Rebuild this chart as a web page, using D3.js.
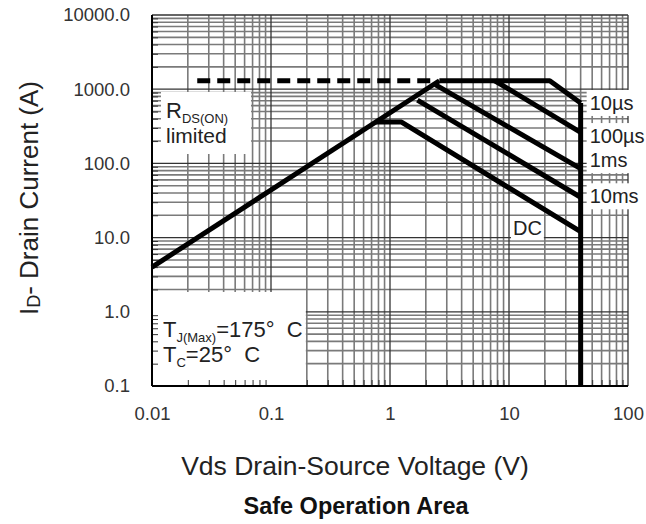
<!DOCTYPE html>
<html lang="en">
<head>
<meta charset="UTF-8">
<title>Safe Operation Area</title>
<script src="https://d3js.org/d3.v7.min.js"></script>
<style>
    body { margin: 0; background: #fff; }
    svg text { font-family: "Liberation Sans", Arial, sans-serif; fill: #222; white-space: pre; }
</style>
</head>
<body>
<svg id="chart" width="646" height="524"></svg>
<script>
    // axis ticks
    var xTicks = [0.01, 0.1, 1, 10, 100];
    var xTickLabels = ["0.01", "0.1", "1", "10", "100"];
    var yTicks = [0.1, 1, 10, 100, 1000, 10000];
    var yTickLabels = ["0.1", "1.0", "10.0", "100.0", "1000.0", "10000.0"];

    // SOA boundaries, [Vds, Id]
    var rdsLimit = [[0.01, 4], [2.6, 1300]];
    var rdsDashed = [[0.024, 1300], [2.3, 1300]];
    var pulse10us = [[2.6, 1300], [22, 1300], [40, 650]];
    var pulse100us = [[7.6, 1300], [40, 262]];
    var pulse1ms = [[2.4, 1150], [40, 85]];
    var pulse10ms = [[1.7, 714], [40, 35]];
    var dcLine = [[0.76, 360], [1.25, 360], [40, 12]];
    var vdsMax = [[40, 0.1], [40, 650]];

    // curve labels: name, Id where it sits next to the Vds max line
    var curveNames = ["10\u00b5s", "100\u00b5s", "1ms", "10ms"];
    var curveLabelId = [525, 188, 89, 29];

    var svg = d3.select("#chart");
    var mLeft = 152, mRight = 628, mTop = 15, mBottom = 386;

    var x = d3.scaleLog().domain([0.01, 100]).range([mLeft, mRight]);
    var y = d3.scaleLog().domain([0.1, 10000]).range([mBottom, mTop]);

    // minor values for the log grid
    var xMinor = [], yMinor = [];
    for (var d = -2; d < 2; d++)
        for (var k = 2; k <= 9; k++) xMinor.push(k * Math.pow(10, d));
    for (var d = -1; d < 4; d++)
        for (var k = 2; k <= 9; k++) yMinor.push(k * Math.pow(10, d));

    var grid = svg.append("g");
    grid.selectAll(".vminor").data(xMinor).enter().append("line")
        .attr("x1", function (v) { return x(v); }).attr("x2", function (v) { return x(v); })
        .attr("y1", mTop).attr("y2", mBottom)
        .attr("stroke", "#7a7a7a").attr("stroke-width", 1.6);
    grid.selectAll(".hminor").data(yMinor).enter().append("line")
        .attr("y1", function (v) { return y(v); }).attr("y2", function (v) { return y(v); })
        .attr("x1", mLeft).attr("x2", mRight)
        .attr("stroke", "#7a7a7a").attr("stroke-width", 1.6);
    grid.selectAll(".vmajor").data(xTicks).enter().append("line")
        .attr("x1", function (v) { return x(v); }).attr("x2", function (v) { return x(v); })
        .attr("y1", mTop).attr("y2", mBottom)
        .attr("stroke", "#333").attr("stroke-width", 1.3);
    grid.selectAll(".hmajor").data(yTicks).enter().append("line")
        .attr("y1", function (v) { return y(v); }).attr("y2", function (v) { return y(v); })
        .attr("x1", mLeft).attr("x2", mRight)
        .attr("stroke", "#333").attr("stroke-width", 1.3);

    // white note boxes
    svg.append("rect")
        .attr("x", x(0.01)).attr("y", y(1.85))
        .attr("width", x(0.2) - x(0.01) - 1).attr("height", y(0.1) - y(1.85))
        .attr("fill", "#fff");
    svg.append("rect")
        .attr("x", x(0.01) + 9).attr("y", 92)
        .attr("width", 90).attr("height", 62)
        .attr("fill", "#fff");

    // inward minor ticks on both axes
    svg.append("g").attr("transform", "translate(" + mLeft + ",0)")
        .call(d3.axisRight(y).tickValues(yMinor).tickSize(6).tickFormat(""))
        .call(function (g) { g.select(".domain").remove(); g.selectAll("line").attr("stroke", "#333"); });
    svg.append("g").attr("transform", "translate(0," + mBottom + ")")
        .call(d3.axisTop(x).tickValues(xMinor).tickSize(6).tickFormat(""))
        .call(function (g) { g.select(".domain").remove(); g.selectAll("line").attr("stroke", "#333"); });

    // tick labels
    svg.append("g").attr("transform", "translate(" + (mLeft - 19) + ",0)")
        .call(d3.axisLeft(y).tickValues(yTicks).tickSize(0)
            .tickFormat(function (v, i) { return yTickLabels[i]; }))
        .call(function (g) {
            g.select(".domain").remove();
            g.selectAll("text").attr("font-size", 18.5).style("fill", "#333");
        });
    svg.append("g").attr("transform", "translate(0," + (mBottom + 18) + ")")
        .call(d3.axisBottom(x).tickValues(xTicks).tickSize(0)
            .tickFormat(function (v, i) { return xTickLabels[i]; }))
        .call(function (g) {
            g.select(".domain").remove();
            g.selectAll("text").attr("font-size", 18.5).style("fill", "#333");
        });

    // frame: left and bottom axis lines
    svg.append("line").attr("x1", mLeft).attr("x2", mLeft).attr("y1", mTop).attr("y2", mBottom)
        .attr("stroke", "#000").attr("stroke-width", 2);
    svg.append("line").attr("x1", mLeft).attr("x2", mRight).attr("y1", mBottom).attr("y2", mBottom)
        .attr("stroke", "#000").attr("stroke-width", 2);

    // text with a white backing box
    function boxedText(g, pad) {
        var b = g.node().getBBox();
        g.insert("rect", ":first-child")
            .attr("x", b.x - pad).attr("y", b.y - pad + 1)
            .attr("width", b.width + 2 * pad).attr("height", b.height + 2 * pad - 2)
            .attr("fill", "#fff");
    }

    // RDS(ON) limited
    var r1 = svg.append("text").attr("x", x(0.01) + 14).attr("y", 118).attr("font-size", 22);
    r1.append("tspan").text("R");
    r1.append("tspan").attr("font-size", 13).attr("dy", 5).text("DS(ON)");
    svg.append("text").attr("x", x(0.01) + 14).attr("y", 143).attr("font-size", 21).text("limited");

    // temperatures
    var t1 = svg.append("text").attr("x", x(0.01) + 11).attr("y", 337).attr("font-size", 22);
    t1.append("tspan").text("T");
    t1.append("tspan").attr("font-size", 13).attr("dy", 5).text("J(Max)");
    t1.append("tspan").attr("dy", -5).text("=175\u00b0  C");
    var t2 = svg.append("text").attr("x", x(0.01) + 11).attr("y", 362).attr("font-size", 22);
    t2.append("tspan").text("T");
    t2.append("tspan").attr("font-size", 13).attr("dy", 5).text("C");
    t2.append("tspan").attr("dy", -5).text("=25\u00b0  C");

    // curve labels
    curveNames.forEach(function (name, i) {
        var g = svg.append("g");
        g.append("text").attr("x", x(40) + 9).attr("y", y(curveLabelId[i]))
            .attr("font-size", 20).text(name);
        boxedText(g, 3);
    });
    var dcg = svg.append("g");
    dcg.append("text").attr("x", x(10.8)).attr("y", y(10.8)).attr("font-size", 20).text("DC");
    boxedText(dcg, 2);

    // SOA lines
    var line = d3.line().x(function (p) { return x(p[0]); }).y(function (p) { return y(p[1]); });
    var curves = [rdsLimit, pulse10us, pulse100us, pulse1ms, pulse10ms, dcLine, vdsMax];
    svg.append("g").selectAll("path").data(curves).enter().append("path")
        .attr("d", line)
        .attr("fill", "none").attr("stroke", "#000").attr("stroke-width", 5)
        .attr("stroke-linejoin", "round");
    svg.append("path").attr("d", line(rdsDashed))
        .attr("fill", "none").attr("stroke", "#000").attr("stroke-width", 5)
        .attr("stroke-dasharray", "13,7");

    // axis titles
    var yt = svg.append("text").attr("transform", "translate(38,198) rotate(-90)")
        .attr("text-anchor", "middle").attr("font-size", 26);
    yt.append("tspan").text("I");
    yt.append("tspan").attr("font-size", 18).attr("dy", 2).text("D");
    yt.append("tspan").attr("dy", -2).text("- Drain Current (A)");

    svg.append("text").attr("x", 355).attr("y", 475).attr("text-anchor", "middle")
        .attr("font-size", 26.5).text("Vds Drain-Source Voltage (V)");
    svg.append("text").attr("x", 356).attr("y", 514).attr("text-anchor", "middle")
        .attr("font-size", 23.5).attr("font-weight", "bold").style("fill", "#111")
        .text("Safe Operation Area");
</script>
</body>
</html>
